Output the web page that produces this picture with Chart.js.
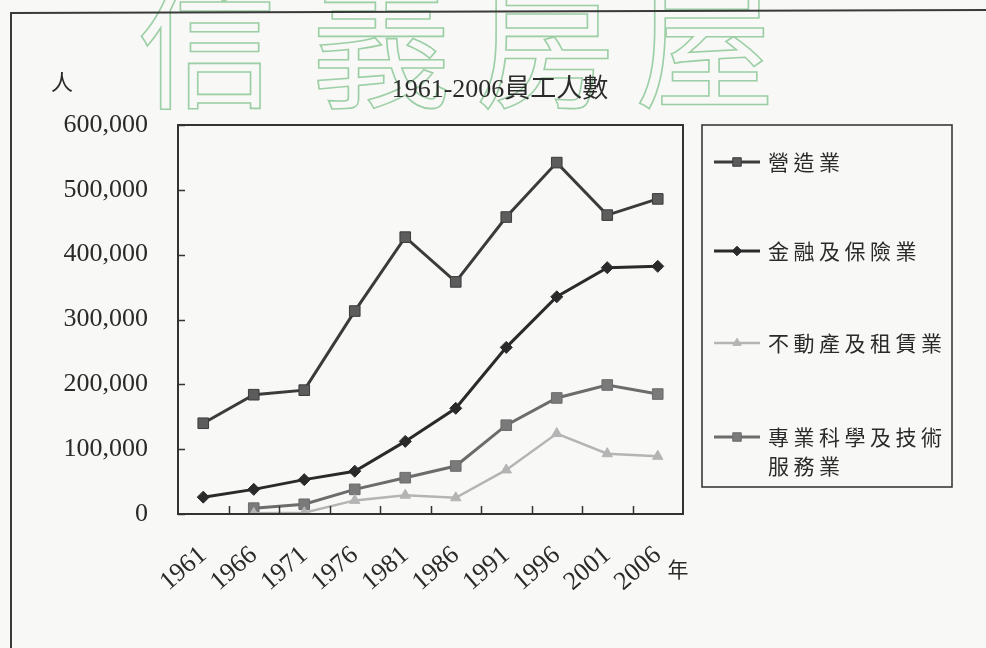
<!DOCTYPE html>
<html>
<head>
<meta charset="utf-8">
<script src="https://cdn.jsdelivr.net/npm/chart.js@4/dist/chart.umd.min.js"></script>
<style>
  html, body { margin: 0; padding: 0; background: #f8f8f6; }
  #wrap { width: 986px; height: 648px; position: relative; }
</style>
</head>
<body>
<div id="wrap"><canvas id="c" width="986" height="648"></canvas></div>
<script>
// Employees by industry, census years 1961-2006
const years = ['1961', '1966', '1971', '1976', '1981', '1986', '1991', '1996', '2001', '2006'];
const construction = [140000, 184000, 191000, 313000, 427000, 358000, 458000, 542000, 461000, 486000];
const finance = [26000, 38000, 53000, 66000, 112000, 163000, 257000, 335000, 380000, 382000];
const realEstate = [null, 1000, 2000, 21000, 29000, 25000, 68000, 124000, 93000, 89000];
const professional = [null, 9000, 15000, 38000, 56000, 74000, 137000, 179000, 199000, 185000];
const seriesNames = ['營造業', '金融及保險業', '不動產及租賃業', '專業科學及技術服務業'];
const yTicks = [0, 100000, 200000, 300000, 400000, 500000, 600000];
const titleText = '1961-2006員工人數';
const yUnit = '人';
const xUnit = '年';
const watermark = '信義房屋';

const SERIF = '"Liberation Serif", "Times New Roman", serif';
const CJK = '"Noto Sans CJK TC", "Noto Sans CJK SC", sans-serif';

const styles = [
  { color: '#3b3b3b', fill: '#5c5c5c', point: 'rect', radius: 7.5, width: 3 },
  { color: '#2a2a2a', fill: '#2a2a2a', point: 'rectRot', radius: 6, width: 3 },
  { color: '#b4b4b4', fill: '#b4b4b4', point: 'triangle', radius: 6, width: 2.5 },
  { color: '#6c6c6c', fill: '#7a7a7a', point: 'rect', radius: 7.5, width: 3 }
];
const seriesData = [construction, finance, realEstate, professional];

const datasets = seriesNames.map((name, i) => ({
  label: name,
  data: seriesData[i],
  borderColor: styles[i].color,
  backgroundColor: styles[i].fill,
  pointBackgroundColor: styles[i].fill,
  pointBorderColor: styles[i].color,
  pointBorderWidth: 1,
  pointStyle: styles[i].point,
  pointRadius: styles[i].radius,
  borderWidth: styles[i].width,
  tension: 0,
  spanGaps: false
}));

function fmt(v) { return v.toLocaleString('en-US'); }

// Page decoration, plot frame, inward ticks, title and the boxed legend
const decor = {
  id: 'decor',
  beforeDraw(chart) {
    const ctx = chart.ctx;
    ctx.save();
    ctx.fillStyle = '#f8f8f6';
    ctx.fillRect(0, 0, chart.width, chart.height);
    // outlined watermark lettering
    ctx.font = '140px ' + CJK;
    ctx.textAlign = 'center';
    ctx.textBaseline = 'ideographic';
    ctx.strokeStyle = '#9ccfa6';
    ctx.lineWidth = 1.6;
    const wx = [207, 381, 545, 705];
    for (let i = 0; i < watermark.length; i++) {
      ctx.strokeText(watermark[i], wx[i], 114);
    }
    // outer frame
    ctx.strokeStyle = '#3a3a3a';
    ctx.lineWidth = 2;
    ctx.beginPath();
    ctx.moveTo(11, 648);
    ctx.lineTo(11, 13);
    ctx.lineTo(986, 10);
    ctx.stroke();
    ctx.restore();
  },
  afterDraw(chart) {
    const ctx = chart.ctx;
    const a = chart.chartArea;
    const xs = chart.scales.x, ys = chart.scales.y;
    ctx.save();
    // plot box
    ctx.strokeStyle = '#333';
    ctx.lineWidth = 2;
    ctx.strokeRect(a.left, a.top, a.right - a.left, a.bottom - a.top);
    // inward tick marks
    ctx.lineWidth = 1.5;
    ctx.beginPath();
    yTicks.forEach(v => {
      const y = Math.round(ys.getPixelForValue(v)) + 0.5;
      ctx.moveTo(a.left, y); ctx.lineTo(a.left + 7, y);
    });
    for (let i = 1; i < years.length; i++) {
      const x = Math.round((xs.getPixelForValue(i - 1) + xs.getPixelForValue(i)) / 2) + 0.5;
      ctx.moveTo(x, a.bottom); ctx.lineTo(x, a.bottom - 8);
    }
    ctx.stroke();
    // title and unit labels
    ctx.fillStyle = '#2a2a2a';
    ctx.textAlign = 'center';
    ctx.textBaseline = 'middle';
    ctx.font = '26px ' + SERIF + ', ' + CJK;
    ctx.fillText(titleText, 500, 90);
    ctx.font = '22px ' + CJK;
    ctx.fillText(yUnit, 62, 82);
    ctx.font = '21px ' + CJK;
    ctx.fillText(xUnit, 678, 569);
    // legend box
    ctx.strokeStyle = '#3a3a3a';
    ctx.lineWidth = 1.6;
    ctx.strokeRect(702, 125, 250, 362);
    const rows = [162, 251, 343, 437];
    const step = 25.5;
    chart.data.datasets.forEach((ds, i) => {
      const y = rows[i];
      ctx.strokeStyle = ds.borderColor;
      ctx.lineWidth = ds.borderWidth;
      ctx.beginPath();
      ctx.moveTo(714, y); ctx.lineTo(760, y);
      ctx.stroke();
      ctx.fillStyle = ds.pointBackgroundColor;
      ctx.strokeStyle = ds.pointBorderColor;
      ctx.lineWidth = 1;
      Chart.helpers.drawPoint(ctx, { pointStyle: ds.pointStyle, radius: ds.pointRadius * 0.8, rotation: 0, borderWidth: 1 }, 737, y);
      ctx.fillStyle = '#2a2a2a';
      ctx.font = '21px ' + CJK;
      ctx.textAlign = 'left';
      ctx.textBaseline = 'middle';
      const chars = Array.from(ds.label);
      chars.forEach((ch, k) => {
        const line = Math.floor(k / 7), col = k % 7;
        ctx.fillText(ch, 768 + col * step, y + line * 29);
      });
    });
    ctx.restore();
  }
};

new Chart(document.getElementById('c'), {
  type: 'line',
  data: { labels: years, datasets },
  options: {
    responsive: false,
    animation: false,
    devicePixelRatio: 1,
    layout: { padding: { left: 0, right: 303, top: 125, bottom: 0 } },
    plugins: {
      legend: { display: false },
      title: { display: false },
      tooltip: { enabled: false }
    },
    scales: {
      x: {
        type: 'category',
        offset: true,
        grid: { display: false },
        border: { display: true, color: '#333', width: 2 },
        ticks: {
          autoSkip: false,
          minRotation: 41,
          maxRotation: 41,
          padding: 18,
          color: '#2a2a2a',
          font: { family: SERIF, size: 26 }
        },
        afterFit(s) { s.height = 134; }
      },
      y: {
        min: 0,
        max: 600000,
        grid: { display: false },
        border: { display: true, color: '#333', width: 2 },
        afterBuildTicks(s) { s.ticks = yTicks.map(v => ({ value: v })); },
        ticks: {
          padding: 22,
          color: '#2a2a2a',
          font: { family: SERIF, size: 26 },
          callback: v => fmt(v)
        },
        afterFit(s) { s.width = 178; }
      }
    }
  },
  plugins: [decor]
});
</script>
</body>
</html>
